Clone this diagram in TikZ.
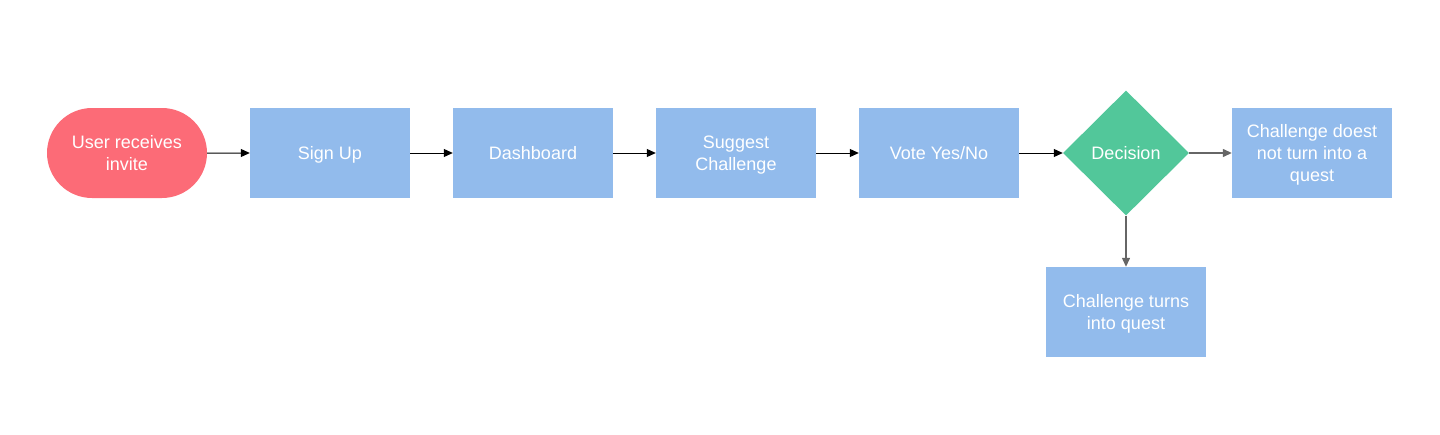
\documentclass[tikz,border=0pt]{standalone}
\usepackage{fontspec}
\setmainfont{Liberation Sans}
\usetikzlibrary{shapes.geometric,shapes.misc,arrows.meta}
\definecolor{termred}{HTML}{FC6B77}
\definecolor{boxblue}{HTML}{92BBEC}
\definecolor{decgreen}{HTML}{52C79A}
\tikzset{
  txt/.style={text=white,font=\fontsize{18}{22}\selectfont,align=center,text depth=0pt},
  procbox/.style={txt,fill=boxblue,minimum width=160pt,minimum height=90pt,inner sep=0pt},
  termbox/.style={txt,fill=termred,rounded rectangle,minimum width=160pt,minimum height=90pt,inner sep=0pt},
  decbox/.style={txt,fill=decgreen,diamond,minimum width=126pt,minimum height=125pt,inner sep=0pt},
  conn/.style={-{Triangle[length=9pt,width=8pt]},line width=1pt,black},
  gconn/.style={-{Triangle[length=9pt,width=8pt]},line width=1.3pt,black!60},
}
\begin{document}
\begin{tikzpicture}[x=1pt,y=-1pt]
\useasboundingbox (0,0) rectangle (1440,434);
\node[termbox] (start) at (127,153) {User receives\\invite};
\node[procbox] (signup) at (330,153) {Sign Up};
\node[procbox] (dash) at (533,153) {Dashboard};
\node[procbox] (suggest) at (736,153) {Suggest\\Challenge};
\node[procbox] (vote) at (939,153) {Vote Yes/No};
\node[decbox] (dec) at (1126,153) {Decision};
\node[procbox] (no) at (1312,153) {Challenge doest\\not turn into a\\quest};
\node[procbox] (yes) at (1126,312) {Challenge turns\\into quest};
\draw[conn] (start) -- (signup);
\draw[conn] (signup) -- (dash);
\draw[conn] (dash) -- (suggest);
\draw[conn] (suggest) -- (vote);
\draw[conn] (vote) -- (dec);
\draw[gconn] (dec) -- (no);
\draw[gconn] (dec) -- (yes);
\end{tikzpicture}
\end{document}
